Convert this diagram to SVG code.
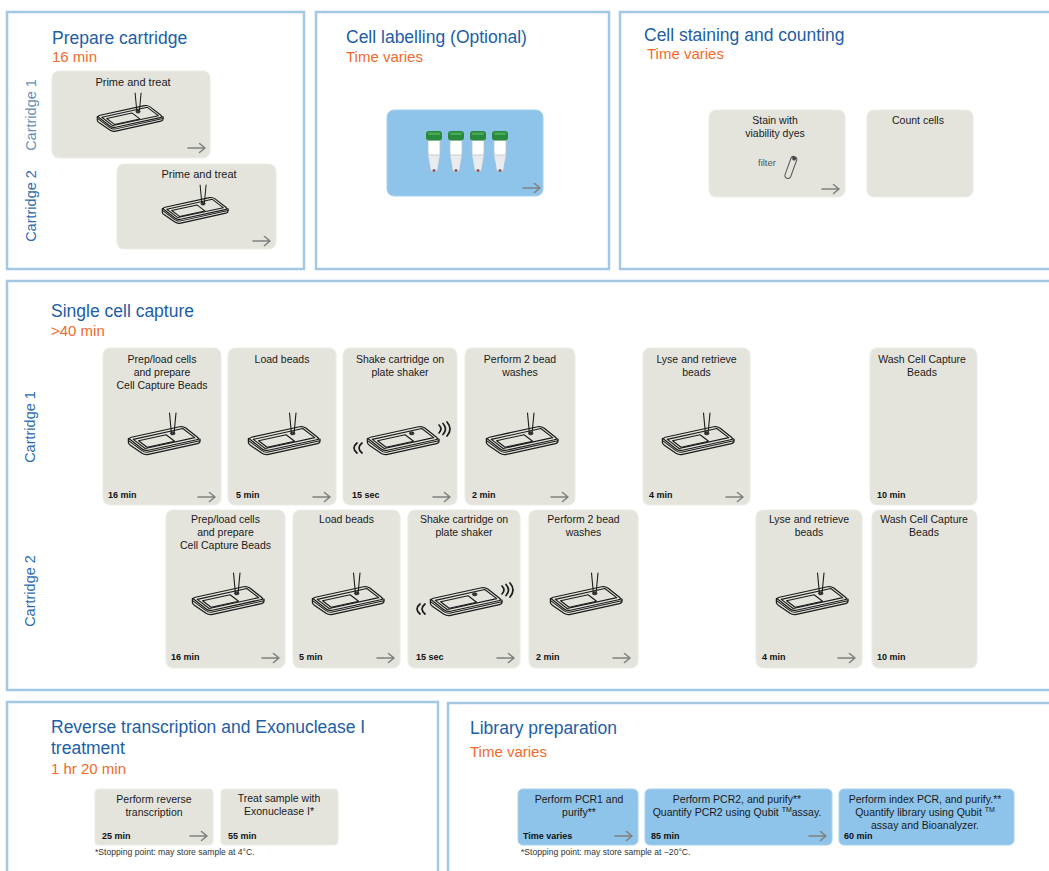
<svg xmlns="http://www.w3.org/2000/svg" xmlns:xlink="http://www.w3.org/1999/xlink" width="1049" height="871" viewBox="0 0 1049 871">
  <style>
    text { font-family: "Liberation Sans", Arial, sans-serif; }
    .panel { fill: #ffffff; stroke: #a2c8e5; stroke-width: 2.5; }
    .card { fill: #e4e4dd; stroke: #ececE6; stroke-width: 1.2; }
    .bcard { fill: #8ec4ea; stroke: #a6d0ee; stroke-width: 1; }
    .h { font-size: 17.5px; fill: #1d5ea5; }
    .t { font-size: 15px; fill: #f26a2b; }
    .lbl { font-size: 10.5px; fill: #1a1a1a; text-anchor: middle; }
    .min { font-size: 9px; font-weight: bold; fill: #111111; }
    .vert { font-size: 14.5px; fill: #2d6cb2; text-anchor: middle; }
    .note { font-size: 8.6px; fill: #333333; }
    .arr { fill: none; stroke: #808080; stroke-width: 1.6; stroke-linecap: round; stroke-linejoin: round; }
    .ink { fill: #e4e4dd; stroke: #1a1a1a; stroke-width: 1.25; stroke-linejoin: round; stroke-linecap: round; }
    .line { fill: none; stroke: #1a1a1a; stroke-width: 1.1; stroke-linejoin: round; stroke-linecap: round; }
    .wave { fill: none; stroke: #1a1a1a; stroke-width: 1.7; stroke-linecap: round; }
  </style>
  <defs>
    <!-- isometric cartridge tray -->
    <g id="tray">
      <path class="ink" d="M1.4,25.5 L1.4,29.5 Q1.4,31 4,32.7 L15,40.3 Q18,42.2 21.5,41.4 L70.5,30.6 Q73,30 73,28 L73,26 Z"/>
      <path class="line" d="M1.6,27.6 L15,37.6 Q18,39.8 21.5,39 L72.8,27.8"/>
      <path class="ink" d="M4.4,24.25 L52.6,13.75 Q56,13 58.8,15.1 L70.2,23.9 Q73,26 69.6,26.75 L21.4,37.25 Q18,38 15.2,35.9 L3.8,27.1 Q1,25 4.4,24.25 Z"/>
      <path class="line" d="M6.3,26.35 L55.8,15.55 L67.7,24.65 L18.2,35.45 Z"/>
      <path class="line" d="M11.6,27.7 L39.1,21.7 L47.6,28.2 L20.1,34.2 Z"/>
      <ellipse cx="45.7" cy="20.3" rx="2.3" ry="1.5" fill="#3a3a3a" stroke="#1a1a1a" stroke-width="0.8"/>
    </g>
    <!-- tray with pipette tip -->
    <g id="cart">
      <use xlink:href="#tray"/>
      <path class="line" d="M42.5,0 L44.3,19 M49,0 L47.2,19"/>
    </g>
    <!-- tray on shaker with motion marks -->
    <g id="shaker">
      <use xlink:href="#tray"/>
      <path class="wave" d="M-9,30 Q-15,35 -9,40 M-4,30 Q-10,35 -4,40"/>
      <path class="wave" d="M73,12 Q77,16 73,20 M77,10.5 Q82,16 77,21.5 M81,9 Q87,16 81,23"/>
    </g>
    <!-- sample tube -->
    <g id="tube">
      <path d="M-6,9 L6,9 L6,22 L3,39 Q0,43 -3,39 L-6,22 Z" fill="#ffffff" stroke="#b9c3cc" stroke-width="0.8"/>
      <path d="M-6,24 L6,24 L6,22 L3,39 Q0,43 -3,39 L-6,22 Z" fill="#e9ebee"/>
      <line x1="-6" y1="24" x2="6" y2="24" stroke="#b9c3cc" stroke-width="0.8"/>
      <circle cx="0" cy="39.5" r="1.6" fill="#8a5a5a"/>
      <rect x="-8" y="0" width="16" height="9.5" rx="3" fill="#2a8a3c"/>
      <rect x="-6" y="1.5" width="12" height="2.5" rx="1.2" fill="#4aa85a"/>
    </g>
    <!-- step arrow -->
    <path id="arrow" class="arr" d="M0,0 H17 M11.5,-4.5 L17,0 L11.5,4.5"/>
  </defs>

  <rect width="1049" height="871" fill="#ffffff"/>

  <!-- ============ Prepare cartridge ============ -->
  <g id="prepare-cartridge">
    <rect class="panel" x="7" y="12" width="297" height="257"/>
    <text class="h" x="52" y="44">Prepare cartridge</text>
    <text class="t" x="52" y="62">16 min</text>
    <text class="vert" transform="translate(35.5,115) rotate(-90)" style="fill:#6a8fb8">Cartridge 1</text>
    <text class="vert" transform="translate(35.5,206) rotate(-90)">Cartridge 2</text>
    <g id="prime-1">
      <rect class="card" x="52" y="71" width="158" height="87" rx="7"/>
      <text class="lbl" x="133" y="86" style="font-size:11px">Prime and treat</text>
      <use xlink:href="#cart" transform="translate(96,93) scale(0.92)"/>
    </g>
    <g id="prime-2">
      <rect class="card" x="117" y="164" width="159" height="85" rx="7"/>
      <text class="lbl" x="199" y="178" style="font-size:11px">Prime and treat</text>
      <use xlink:href="#cart" transform="translate(161,185) scale(0.92)"/>
    </g>
  </g>

  <!-- ============ Cell labelling ============ -->
  <g id="cell-labelling">
    <rect class="panel" x="316" y="12" width="293" height="257"/>
    <text class="h" x="346" y="43">Cell labelling (Optional)</text>
    <text class="t" x="346" y="62">Time varies</text>
    <g id="label-tubes">
      <rect class="bcard" x="387" y="110" width="156" height="86" rx="7"/>
      <use xlink:href="#tube" transform="translate(434,131)"/>
      <use xlink:href="#tube" transform="translate(456,131)"/>
      <use xlink:href="#tube" transform="translate(478,131)"/>
      <use xlink:href="#tube" transform="translate(500,131)"/>
    </g>
  </g>

  <!-- ============ Cell staining and counting ============ -->
  <g id="cell-staining">
    <rect class="panel" x="620" y="12" width="440" height="257"/>
    <text class="h" x="644" y="41">Cell staining and counting</text>
    <text class="t" x="647" y="59">Time varies</text>
    <g id="stain">
      <rect class="card" x="709" y="110" width="136" height="87" rx="7"/>
      <text class="lbl" x="775" y="124">Stain with</text>
      <text class="lbl" x="775" y="137">viability dyes</text>
      <text x="758" y="166" style="font-size:9.5px;fill:#555555">filter</text>
      <g transform="translate(791,167) rotate(20)">
        <rect x="-3" y="-11" width="6" height="23" rx="3" fill="none" stroke="#555555" stroke-width="1"/>
        <circle cx="0" cy="-9" r="2" fill="#444444"/>
      </g>
    </g>
    <g id="count">
      <rect class="card" x="867" y="110" width="106" height="87" rx="7"/>
      <text class="lbl" x="918" y="124">Count cells</text>
    </g>
  </g>

  <!-- ============ Single cell capture ============ -->
  <g id="single-cell-capture">
    <rect class="panel" x="7" y="281" width="1060" height="409"/>
    <text class="h" x="51" y="317">Single cell capture</text>
    <text class="t" x="51" y="336">&gt;40 min</text>
    <text class="vert" transform="translate(34.5,427) rotate(-90)">Cartridge 1</text>
    <text class="vert" transform="translate(34.5,591) rotate(-90)">Cartridge 2</text>

    <!-- cartridge 1 row -->
    <g id="c1-prep">
      <rect class="card" x="103" y="348" width="118" height="157" rx="7"/>
      <text class="lbl" x="162" y="363">Prep/load cells</text>
      <text class="lbl" x="162" y="376">and prepare</text>
      <text class="lbl" x="162" y="389">Cell Capture Beads</text>
      <use xlink:href="#cart" transform="translate(127,413)"/>
      <text class="min" x="108" y="498">16 min</text>
    </g>
    <g id="c1-load">
      <rect class="card" x="228" y="348" width="108" height="157" rx="7"/>
      <text class="lbl" x="282" y="363">Load beads</text>
      <use xlink:href="#cart" transform="translate(247,413)"/>
      <text class="min" x="236" y="498">5 min</text>
    </g>
    <g id="c1-shake">
      <rect class="card" x="343" y="348" width="114" height="157" rx="7"/>
      <text class="lbl" x="400" y="363">Shake cartridge on</text>
      <text class="lbl" x="400" y="376">plate shaker</text>
      <use xlink:href="#shaker" transform="translate(366,413)"/>
      <text class="min" x="352" y="498">15 sec</text>
    </g>
    <g id="c1-wash">
      <rect class="card" x="465" y="348" width="110" height="157" rx="7"/>
      <text class="lbl" x="520" y="363">Perform 2 bead</text>
      <text class="lbl" x="520" y="376">washes</text>
      <use xlink:href="#cart" transform="translate(485,413)"/>
      <text class="min" x="472" y="498">2 min</text>
    </g>
    <g id="c1-lyse">
      <rect class="card" x="643" y="348" width="107" height="157" rx="7"/>
      <text class="lbl" x="696.5" y="363">Lyse and retrieve</text>
      <text class="lbl" x="696.5" y="376">beads</text>
      <use xlink:href="#cart" transform="translate(661,413)"/>
      <text class="min" x="649" y="498">4 min</text>
    </g>
    <g id="c1-washbeads">
      <rect class="card" x="870" y="348" width="107" height="157" rx="7"/>
      <text class="lbl" x="922" y="363">Wash Cell Capture</text>
      <text class="lbl" x="922" y="376">Beads</text>
      <text class="min" x="877" y="498">10 min</text>
    </g>

    <!-- cartridge 2 row -->
    <g id="c2-prep">
      <rect class="card" x="166" y="510" width="119" height="158" rx="7"/>
      <text class="lbl" x="225.5" y="523">Prep/load cells</text>
      <text class="lbl" x="225.5" y="536">and prepare</text>
      <text class="lbl" x="225.5" y="549">Cell Capture Beads</text>
      <use xlink:href="#cart" transform="translate(191,573)"/>
      <text class="min" x="171" y="660">16 min</text>
    </g>
    <g id="c2-load">
      <rect class="card" x="293" y="510" width="107" height="158" rx="7"/>
      <text class="lbl" x="346.5" y="523">Load beads</text>
      <use xlink:href="#cart" transform="translate(311,573)"/>
      <text class="min" x="299" y="660">5 min</text>
    </g>
    <g id="c2-shake">
      <rect class="card" x="408" y="510" width="112" height="158" rx="7"/>
      <text class="lbl" x="464" y="523">Shake cartridge on</text>
      <text class="lbl" x="464" y="536">plate shaker</text>
      <use xlink:href="#shaker" transform="translate(429,574)"/>
      <text class="min" x="416" y="660">15 sec</text>
    </g>
    <g id="c2-wash">
      <rect class="card" x="529" y="510" width="109" height="158" rx="7"/>
      <text class="lbl" x="583.5" y="523">Perform 2 bead</text>
      <text class="lbl" x="583.5" y="536">washes</text>
      <use xlink:href="#cart" transform="translate(549,573)"/>
      <text class="min" x="536" y="660">2 min</text>
    </g>
    <g id="c2-lyse">
      <rect class="card" x="756" y="510" width="106" height="158" rx="7"/>
      <text class="lbl" x="809" y="523">Lyse and retrieve</text>
      <text class="lbl" x="809" y="536">beads</text>
      <use xlink:href="#cart" transform="translate(775,573)"/>
      <text class="min" x="762" y="660">4 min</text>
    </g>
    <g id="c2-washbeads">
      <rect class="card" x="872" y="510" width="105" height="158" rx="7"/>
      <text class="lbl" x="924" y="523">Wash Cell Capture</text>
      <text class="lbl" x="924" y="536">Beads</text>
      <text class="min" x="877" y="660">10 min</text>
    </g>
  </g>

  <!-- ============ Reverse transcription ============ -->
  <g id="reverse-transcription">
    <rect class="panel" x="7" y="702" width="431" height="180"/>
    <text class="h" x="51" y="733">Reverse transcription and Exonuclease I</text>
    <text class="h" x="51" y="754">treatment</text>
    <text class="t" x="51" y="774">1 hr 20 min</text>
    <g id="rt">
      <rect class="card" x="95" y="789" width="118" height="56" rx="4"/>
      <text class="lbl" x="154" y="803">Perform reverse</text>
      <text class="lbl" x="154" y="816">transcription</text>
      <text class="min" x="102" y="839">25 min</text>
    </g>
    <g id="exo">
      <rect class="card" x="221" y="789" width="117" height="56" rx="4"/>
      <text class="lbl" x="279" y="802">Treat sample with</text>
      <text class="lbl" x="279" y="815">Exonuclease I*</text>
      <text class="min" x="228" y="839">55 min</text>
    </g>
    <text class="note" x="95" y="855">*Stopping point: may store sample at 4°C.</text>
  </g>

  <!-- ============ Library preparation ============ -->
  <g id="library-preparation">
    <rect class="panel" x="448" y="703" width="620" height="180"/>
    <text class="h" x="470" y="734">Library preparation</text>
    <text class="t" x="470" y="757">Time varies</text>
    <g id="pcr1">
      <rect class="bcard" x="518" y="789" width="120" height="56" rx="5"/>
      <text class="lbl" x="579" y="803">Perform PCR1 and</text>
      <text class="lbl" x="579" y="816">purify**</text>
      <text class="min" x="523" y="839">Time varies</text>
    </g>
    <g id="pcr2">
      <rect class="bcard" x="645" y="789" width="187" height="56" rx="5"/>
      <text class="lbl" x="737" y="803">Perform PCR2, and purify**</text>
      <text class="lbl" x="737" y="816">Quantify PCR2 using Qubit <tspan dy="-4" style="font-size:7px">TM</tspan><tspan dy="4">assay.</tspan></text>
      <text class="min" x="651" y="839">85 min</text>
    </g>
    <g id="index-pcr">
      <rect class="bcard" x="839" y="789" width="175" height="56" rx="5"/>
      <text class="lbl" x="925" y="803">Perform index PCR, and purify.**</text>
      <text class="lbl" x="925" y="816">Quantify library using Qubit <tspan dy="-4" style="font-size:7px">TM</tspan></text>
      <text class="lbl" x="925" y="829">assay and Bioanalyzer.</text>
      <text class="min" x="844" y="839">60 min</text>
    </g>
    <text class="note" x="521" y="855">*Stopping point: may store sample at −20°C.</text>
  </g>

  <!-- ============ step arrows ============ -->
  <g id="connectors">
    <use xlink:href="#arrow" transform="translate(188,148)"/>
    <use xlink:href="#arrow" transform="translate(253,241)"/>
    <use xlink:href="#arrow" transform="translate(523,188)"/>
    <use xlink:href="#arrow" transform="translate(822,189)"/>
    <use xlink:href="#arrow" transform="translate(198,497)"/>
    <use xlink:href="#arrow" transform="translate(313,497)"/>
    <use xlink:href="#arrow" transform="translate(433,497)"/>
    <use xlink:href="#arrow" transform="translate(551,497)"/>
    <use xlink:href="#arrow" transform="translate(726,497)"/>
    <use xlink:href="#arrow" transform="translate(262,658)"/>
    <use xlink:href="#arrow" transform="translate(377,658)"/>
    <use xlink:href="#arrow" transform="translate(497,658)"/>
    <use xlink:href="#arrow" transform="translate(613,658)"/>
    <use xlink:href="#arrow" transform="translate(838,658)"/>
    <use xlink:href="#arrow" transform="translate(190,836)"/>
    <use xlink:href="#arrow" transform="translate(615,836)"/>
    <use xlink:href="#arrow" transform="translate(809,836)"/>
  </g>
</svg>
